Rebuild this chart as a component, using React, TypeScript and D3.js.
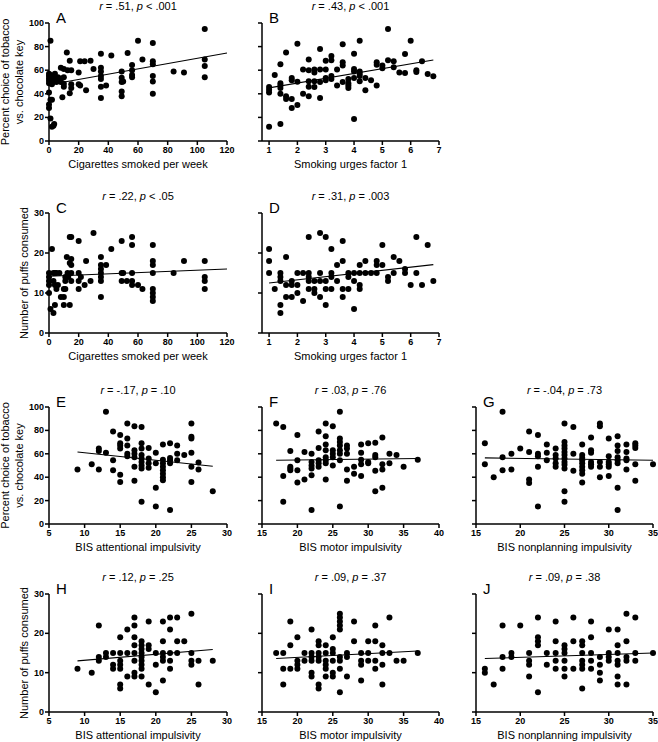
import React from "react";
import * as d3 from "d3";

type Pt = [number, number];

// ---------- data ----------
const ptsA: Pt[] = [
  [1, 85], [0, 41], [0, 31], [0, 28], [1, 19], [2, 12], [3, 13], [3.5, 14.5], [2, 35], [1, 35],
  [0, 57], [0, 55], [0, 53], [0, 51], [0, 49], [1, 56], [1, 52], [1, 50], [2, 54], [2, 48],
  [3, 55], [3, 51], [4, 57], [4, 53], [5, 50], [5, 52], [6, 54], [7, 51], [8, 50], [8, 53],
  [8, 62], [10, 61], [12.5, 60], [15, 60], [12, 75], [14, 68], [10, 54], [10, 46], [10, 48.5], [9, 37],
  [14, 40.5], [15, 48], [15, 45], [20, 58], [20, 48], [21, 47], [21, 67.5], [24, 67.5], [28, 68], [25, 43],
  [30, 61], [35, 74], [35, 62], [35, 59], [35, 55], [35, 52.5], [35, 46], [35, 36.5], [38.5, 47], [42, 72.5],
  [49, 59], [49, 53.5], [49, 50], [49, 42], [49, 38], [50, 50.5], [53, 74.5], [56, 64.5], [56, 60], [56, 56],
  [56, 54], [60, 85], [63, 69], [70, 83], [70, 67.5], [70, 65], [70, 55], [70, 50.5], [70, 40], [84, 59],
  [91, 58], [105, 95], [105, 69], [105, 63.5], [105, 54],
];
const ptsB: Pt[] = [
  [1, 45.8], [1, 43.5], [1, 41], [1, 12], [1.2, 56], [1.4, 65], [1.4, 49], [1.4, 47], [1.4, 45], [1.4, 40],
  [1.4, 14.4], [1.6, 75], [1.6, 38], [1.6, 35.6], [1.8, 53.4], [1.8, 51.4], [1.8, 35.6], [1.8, 28], [2, 82.5], [2, 50.3],
  [2, 30.5], [2.2, 60.5], [2.2, 40], [2.4, 69], [2.4, 60], [2.4, 50.6], [2.4, 46], [2.4, 38], [2.6, 60.5], [2.6, 58],
  [2.6, 50.6], [2.6, 45.8], [2.8, 78], [2.8, 60.5], [2.8, 50], [2.8, 36.4], [3, 68], [3, 60.5], [3, 53.4], [3, 51.4],
  [3.2, 72], [3.2, 68.4], [3.2, 55], [3.2, 52.5], [3.4, 60.5], [3.4, 47], [3.6, 82], [3.6, 66.7], [3.6, 64], [3.6, 50],
  [3.8, 52.5], [3.8, 49], [3.8, 47], [3.8, 45], [4, 74], [4, 61], [4, 59], [4, 53.4], [4, 18.6], [4.2, 85],
  [4.2, 59], [4.2, 57], [4.2, 55], [4.2, 50.6], [4.4, 53.4], [4.4, 43], [4.6, 51.4], [4.8, 66.7], [4.8, 64.7], [4.8, 47],
  [5, 64], [5, 61.6], [5.2, 68.4], [5.2, 95], [5.4, 67.5], [5.4, 62.4], [5.6, 58], [5.8, 73.7], [5.8, 57.6], [6, 85],
  [6.2, 60], [6.2, 58.5], [6.4, 67.5], [6.6, 56.8], [6.8, 54.8],
];
const ptsC: Pt[] = [
  [0, 15], [0, 14], [0, 13], [0, 12], [0, 10], [1, 6], [2, 21], [3, 15], [4, 15], [5, 15],
  [3, 13], [4, 12], [3, 5], [4, 7], [5, 11], [6, 12], [7, 15], [8, 9], [10, 9], [10, 11],
  [11, 11], [11, 13], [11, 14], [10, 7], [12, 19], [12.5, 15], [13, 14], [14, 17.5], [14, 7], [14, 24],
  [15, 24], [15, 18.5], [15, 17], [15, 15], [15, 13], [20, 23], [20, 15], [20, 13], [20, 11], [21.5, 14],
  [24, 12], [25, 18], [28, 13], [30, 25], [35, 19], [35, 17], [35, 16], [35, 15], [35, 14], [35, 13],
  [35, 9], [38.5, 17], [42, 21], [49, 23], [49, 15], [50, 15], [49, 13], [52.5, 13], [56, 24], [56, 22],
  [56, 15], [56, 13], [56, 12], [60, 12], [63, 11], [70, 22], [70, 18], [70, 17], [70, 15], [70, 11],
  [70, 10], [70, 9], [70, 8], [84, 15], [91, 18], [105, 18], [105, 14], [105, 13], [105, 11],
];
const ptsD: Pt[] = [
  [1, 21], [1, 18], [1, 15], [1.2, 11], [1.4, 15], [1.4, 14], [1.4, 13], [1.4, 7], [1.4, 5], [1.6, 19],
  [1.6, 12], [1.6, 9], [1.8, 13], [1.8, 12], [1.8, 9], [2, 15], [2, 12], [2, 10], [2.2, 15], [2.2, 8],
  [2.4, 24], [2.4, 15], [2.4, 14], [2.4, 13], [2.4, 11], [2.6, 13], [2.6, 11], [2.6, 10], [2.8, 25], [2.8, 15],
  [2.8, 13], [2.8, 9], [3, 24], [3, 13], [3, 11], [3, 7], [3.2, 21], [3.2, 15], [3.2, 14], [3.2, 11],
  [3.4, 17], [3.4, 13], [3.6, 23], [3.6, 18], [3.6, 11], [3.6, 9], [3.8, 15], [3.8, 14], [3.8, 11], [4, 15],
  [4, 13], [4, 6], [4.2, 17], [4.2, 15], [4.2, 12], [4.2, 11], [4.4, 18], [4.4, 15], [4.6, 15], [4.8, 18],
  [4.8, 17], [4.8, 15], [5, 22], [5, 17], [5.2, 14], [5.2, 13], [5.4, 19], [5.4, 15], [5.6, 18], [5.8, 16],
  [5.8, 15], [6, 12], [6.2, 24], [6.2, 15], [6.4, 12], [6.6, 22], [6.8, 13],
];
const ptsE: Pt[] = [
  [9, 46.6], [11, 51], [12, 64.5], [12, 62.5], [12, 46.6], [13, 96], [13, 61], [14, 79], [14, 54.5], [14, 46],
  [15, 76], [15, 69], [15, 67], [15, 64.5], [15, 42], [15, 36], [16, 86], [16, 73], [16, 67], [16, 60],
  [16, 58], [17, 83.5], [17, 63], [17, 60], [17, 57], [17, 49], [17, 37], [18, 83], [18, 69], [18, 64.5],
  [18, 59], [18, 56], [18, 53], [18, 50], [18, 47.5], [18, 19], [19, 65], [19, 56], [19, 52], [19, 48],
  [20, 61], [20, 52], [20, 31], [20, 15], [21, 68], [21, 55], [21, 52], [21, 49], [21, 46], [21, 43],
  [21, 40], [21, 37.5], [22, 69], [22, 56.5], [22, 54.5], [22, 52], [22, 12], [23, 67], [23, 60], [23, 54.5],
  [24, 59], [25, 86], [25, 74.5], [25, 73], [25, 61], [25, 49], [25, 36], [26, 52.5], [26, 46.6], [28, 28],
];
const ptsF: Pt[] = [
  [17, 86], [18, 83], [18, 41], [18, 19], [19, 62.5], [19, 49], [19, 47.5], [19, 46], [20, 76], [20, 54.5],
  [20, 46], [20, 35.5], [21, 61.6], [21, 38], [22, 60], [22, 53], [22, 50], [22, 47.5], [22, 41.7], [22, 12],
  [23, 79], [23, 65], [23, 54.5], [23, 52], [23, 49], [24, 86], [24, 75], [24, 68], [24, 63], [24, 57],
  [24, 54.5], [24, 52], [24, 38], [25, 83.5], [25, 63], [25, 60], [25, 57], [25, 50], [26, 96], [26, 73],
  [26, 70], [26, 67], [26, 63], [26, 60], [26, 54.5], [26, 15], [27, 67], [27, 64.5], [27, 60], [27, 46.6],
  [27, 37], [28, 49], [28, 43], [29, 68], [29, 61], [29, 55], [29, 51], [29, 41], [30, 69], [30, 53],
  [30, 52], [31, 69.5], [31, 59], [31, 57], [31, 45.5], [31, 28], [32, 74], [32, 51], [32, 46.6], [32, 31],
  [33, 60], [33, 52], [34, 59], [35, 49], [37, 55],
];
const ptsG: Pt[] = [
  [16, 69], [16, 51], [17, 40], [18, 96], [18, 57], [18, 46], [19, 60], [19, 46.6], [20, 64.5], [21, 79],
  [21, 61.6], [21, 38], [21, 35], [22, 76], [22, 60], [22, 58], [22, 49], [22, 15], [23, 68], [23, 61],
  [23, 54.5], [24, 64.5], [24, 59], [24, 56], [24, 52], [24, 49], [25, 86], [25, 70], [25, 67], [25, 64.5],
  [25, 61.6], [25, 59], [25, 56], [25, 53], [25, 50.6], [25, 47.5], [25, 28], [25, 19], [26, 83], [26, 60],
  [26, 45.5], [27, 68], [27, 59], [27, 56.5], [27, 54.5], [27, 52], [27, 49], [27, 46], [27, 43], [27, 35.5],
  [28, 74], [28, 63], [28, 61], [28, 53], [28, 51], [28, 49], [29, 86], [29, 83.5], [29, 53], [29, 49],
  [29, 40], [30, 73], [30, 58], [30, 53], [30, 51], [30, 49], [30, 41], [31, 75], [31, 67], [31, 62.5],
  [31, 57], [31, 54.5], [31, 52], [31, 31], [31, 12], [32, 68], [32, 61.6], [32, 56], [32, 54.5], [32, 46.6],
  [33, 69], [33, 67], [33, 65], [33, 51], [33, 37], [35, 51],
];
const ptsH: Pt[] = [
  [9, 11], [11, 10], [12, 22], [12, 14], [12, 13], [13, 15], [13, 14], [14, 15], [14, 12], [14, 11],
  [15, 19], [15, 15], [15, 13], [15, 12], [15, 11], [15, 7], [15, 6], [16, 21], [16, 15], [16, 9],
  [17, 24], [17, 22], [17, 19], [17, 17], [17, 15], [17, 13], [17, 10], [17, 9], [18, 18], [18, 17],
  [18, 16], [18, 15], [18, 14], [18, 13], [18, 12], [18, 11], [18, 9], [19, 23], [19, 17], [19, 16],
  [19, 7], [20, 15], [20, 12], [20, 5], [21, 23], [21, 18], [21, 15], [21, 14], [21, 13], [21, 8],
  [22, 24], [22, 21], [22, 15], [22, 13], [22, 11], [23, 24], [23, 18], [23, 15], [24, 18], [25, 25],
  [25, 15], [25, 13], [25, 12], [26, 13], [26, 7], [28, 13],
];
const ptsI: Pt[] = [
  [17, 15], [18, 15], [18, 11], [18, 7], [19, 23], [19, 17], [19, 11], [20, 19], [20, 13], [20, 12],
  [20, 11], [21, 15], [21, 13], [22, 21], [22, 15], [22, 14], [22, 13], [22, 10], [22, 9], [23, 18],
  [23, 17], [23, 15], [23, 14], [23, 13], [23, 7], [23, 6], [24, 17], [24, 15], [24, 13], [24, 12],
  [24, 11], [24, 9], [25, 19], [25, 16], [25, 15], [25, 13], [25, 10], [25, 9], [26, 25], [26, 24],
  [26, 23], [26, 22], [26, 21], [26, 14], [26, 13], [26, 11], [26, 5], [27, 15], [27, 14], [27, 9],
  [28, 23], [28, 18], [29, 15], [29, 13], [29, 12], [29, 8], [30, 18], [30, 15], [30, 13], [31, 22],
  [31, 18], [31, 13], [31, 11], [32, 17], [32, 15], [32, 12], [32, 7], [33, 24], [33, 15], [34, 13],
  [35, 13], [37, 15],
];
const ptsJ: Pt[] = [
  [16, 11], [16, 10], [17, 7], [18, 22], [18, 14], [18, 11], [19, 15], [19, 14], [20, 22], [21, 15],
  [21, 13], [21, 12], [21, 9], [22, 24], [22, 19], [22, 18], [22, 17], [22, 5], [23, 15], [23, 12],
  [24, 23], [24, 18], [24, 15], [24, 13], [24, 11], [25, 17], [25, 16], [25, 15], [25, 13], [25, 11],
  [25, 9], [26, 24], [26, 18], [26, 11], [27, 18], [27, 17], [27, 15], [27, 13], [27, 12], [27, 11],
  [27, 6], [28, 23], [28, 19], [28, 15], [28, 13], [28, 11], [29, 14], [29, 12], [29, 10], [29, 8],
  [30, 21], [30, 15], [30, 14], [30, 13], [31, 21], [31, 17], [31, 15], [31, 13], [31, 12], [31, 9],
  [31, 7], [32, 25], [32, 18], [32, 14], [32, 13], [32, 7], [33, 24], [33, 15], [33, 13], [35, 15],
];

// fitted lines: [[x0, y0], [x1, y1]]
const fitA: Pt[] = [[0, 47.7], [120, 74.6]];
const fitB: Pt[] = [[1, 45], [6.8, 68.6]];
const fitC: Pt[] = [[0, 14.2], [120, 16]];
const fitD: Pt[] = [[1, 12.5], [6.8, 17.1]];
const fitE: Pt[] = [[9, 61.6], [28, 49.4]];
const fitF: Pt[] = [[17, 54.5], [37, 56]];
const fitG: Pt[] = [[16, 56.5], [35, 54.5]];
const fitH: Pt[] = [[9, 13], [28, 15.9]];
const fitI: Pt[] = [[17, 13.6], [37, 15.5]];
const fitJ: Pt[] = [[16, 13.6], [35, 15]];

const stats = [
  ["r = .51, ", "p < .001"],
  ["r = .43, ", "p < .001"],
  ["r = .22, ", "p < .05"],
  ["r = .31, ", "p = .003"],
  ["r = -.17, ", "p = .10"],
  ["r = .03, ", "p = .76"],
  ["r = -.04, ", "p = .73"],
  ["r = .12, ", "p = .25"],
  ["r = .09, ", "p = .37"],
  ["r = .09, ", "p = .38"],
];
const letters = ["A", "B", "C", "D", "E", "F", "G", "H", "I", "J"];

const cigTicks = [0, 20, 40, 60, 80, 100, 120];
const urgeTicks = [1, 2, 3, 4, 5, 6, 7];
const attTicks = [5, 10, 15, 20, 25, 30];
const motorTicks = [15, 20, 25, 30, 35, 40];
const nonplanTicks = [15, 20, 25, 30, 35];
const pctTicks = [0, 20, 40, 60, 80, 100];
const puffTicks = [0, 10, 20, 30];

const xLabelCig = "Cigarettes smoked per week";
const xLabelUrge = "Smoking urges factor 1";
const xLabelAtt = "BIS attentional impulsivity";
const xLabelMotor = "BIS motor impulsivity";
const xLabelNonplan = "BIS nonplanning impulsivity";
const yLabelPct = ["Percent choice of tobacco", "vs. chocolate key"];
const yLabelPuff = ["Number of puffs consumed"];

// ---------- layout ----------
const colX = [[49, 227], [262, 439], [476, 653]];
const rowY = [[23, 141], [213, 333], [407, 524], [594, 712]];

type Panel = {
  col: number; row: number; pts: Pt[]; fit: Pt[];
  xDom: [number, number]; xTicks: number[]; yDom: [number, number]; yTicks: number[];
  xLabel: string; yLabel?: string[];
};

const panels: Panel[] = [
  { col: 0, row: 0, pts: ptsA, fit: fitA, xDom: [0, 120], xTicks: cigTicks, yDom: [0, 100], yTicks: pctTicks, xLabel: xLabelCig, yLabel: yLabelPct },
  { col: 1, row: 0, pts: ptsB, fit: fitB, xDom: [0.75, 7], xTicks: urgeTicks, yDom: [0, 100], yTicks: pctTicks, xLabel: xLabelUrge },
  { col: 0, row: 1, pts: ptsC, fit: fitC, xDom: [0, 120], xTicks: cigTicks, yDom: [0, 30], yTicks: puffTicks, xLabel: xLabelCig, yLabel: yLabelPuff },
  { col: 1, row: 1, pts: ptsD, fit: fitD, xDom: [0.75, 7], xTicks: urgeTicks, yDom: [0, 30], yTicks: puffTicks, xLabel: xLabelUrge },
  { col: 0, row: 2, pts: ptsE, fit: fitE, xDom: [5, 30], xTicks: attTicks, yDom: [0, 100], yTicks: pctTicks, xLabel: xLabelAtt, yLabel: yLabelPct },
  { col: 1, row: 2, pts: ptsF, fit: fitF, xDom: [15, 40], xTicks: motorTicks, yDom: [0, 100], yTicks: pctTicks, xLabel: xLabelMotor },
  { col: 2, row: 2, pts: ptsG, fit: fitG, xDom: [15, 35], xTicks: nonplanTicks, yDom: [0, 100], yTicks: pctTicks, xLabel: xLabelNonplan },
  { col: 0, row: 3, pts: ptsH, fit: fitH, xDom: [5, 30], xTicks: attTicks, yDom: [0, 30], yTicks: puffTicks, xLabel: xLabelAtt, yLabel: yLabelPuff },
  { col: 1, row: 3, pts: ptsI, fit: fitI, xDom: [15, 40], xTicks: motorTicks, yDom: [0, 30], yTicks: puffTicks, xLabel: xLabelMotor },
  { col: 2, row: 3, pts: ptsJ, fit: fitJ, xDom: [15, 35], xTicks: nonplanTicks, yDom: [0, 30], yTicks: puffTicks, xLabel: xLabelNonplan },
];

const FONT = "'Liberation Sans', Arial, Helvetica, sans-serif";

function PanelView({ p, i }: { p: Panel; i: number }) {
  const [x0, x1] = colX[p.col];
  const [y0, y1] = rowY[p.row];
  const x = d3.scaleLinear().domain(p.xDom).range([x0, x1]);
  const y = d3.scaleLinear().domain(p.yDom).range([y1, y0]);
  const line = d3.line<Pt>().x((d) => x(d[0])).y((d) => y(d[1]));
  const cx = (x0 + x1) / 2;
  const showY = p.col === 0;
  const yMid = (y0 + y1) / 2;
  return (
    <g>
      {/* title */}
      <text x={cx} y={y0 - 13} textAnchor="middle" fontSize={11} fontFamily={FONT}>
        <tspan fontStyle="italic">r</tspan>
        <tspan>{stats[i][0].slice(1)}</tspan>
        <tspan fontStyle="italic">p</tspan>
        <tspan>{stats[i][1].slice(1)}</tspan>
      </text>
      {/* letter */}
      <text x={x0 + 7} y={y0} fontSize={15} fontFamily={FONT}>{letters[i]}</text>
      {/* axes */}
      <line x1={x0} x2={x0} y1={y0} y2={y1} stroke="#000" strokeWidth={1.5} />
      <line x1={x0} x2={x1} y1={y1} y2={y1} stroke="#000" strokeWidth={1.5} />
      {p.yTicks.map((t) => (
        <g key={"y" + t}>
          <line x1={x0 - 4} x2={x0} y1={y(t)} y2={y(t)} stroke="#000" strokeWidth={1.5} />
          {showY && (
            <text x={x0 - 5} y={y(t) + 3} textAnchor="end" fontSize={9} fontWeight="bold" fontFamily={FONT}>{t}</text>
          )}
        </g>
      ))}
      {p.xTicks.map((t) => (
        <g key={"x" + t}>
          <line x1={x(t)} x2={x(t)} y1={y1} y2={y1 + 4} stroke="#000" strokeWidth={1.5} />
          <text x={x(t)} y={y1 + 12} textAnchor="middle" fontSize={9} fontWeight="bold" fontFamily={FONT}>{t}</text>
        </g>
      ))}
      <text x={cx} y={y1 + 27} textAnchor="middle" fontSize={11} fontFamily={FONT}>{p.xLabel}</text>
      {p.yLabel && (
        p.yLabel.length === 2 ? (
          <g>
            <text transform={`translate(9,${yMid}) rotate(-90)`} textAnchor="middle" fontSize={11} fontFamily={FONT}>{p.yLabel[0]}</text>
            <text transform={`translate(23,${yMid}) rotate(-90)`} textAnchor="middle" fontSize={11} fontFamily={FONT}>{p.yLabel[1]}</text>
          </g>
        ) : (
          <text transform={`translate(28,${yMid}) rotate(-90)`} textAnchor="middle" fontSize={11} fontFamily={FONT}>{p.yLabel[0]}</text>
        )
      )}
      {/* fit line */}
      <path d={line(p.fit) || ""} fill="none" stroke="#000" strokeWidth={1.1} />
      {/* points */}
      {p.pts.map((d, k) => (
        <circle key={k} cx={x(d[0])} cy={y(d[1])} r={3} fill="#000" />
      ))}
    </g>
  );
}

export default function App() {
  return (
    <svg width={658} height={742} style={{ position: "absolute", left: 0, top: 0, background: "#fff" }}>
      <rect width={658} height={742} fill="#fff" />
      {panels.map((p, i) => (
        <PanelView key={i} p={p} i={i} />
      ))}
    </svg>
  );
}
